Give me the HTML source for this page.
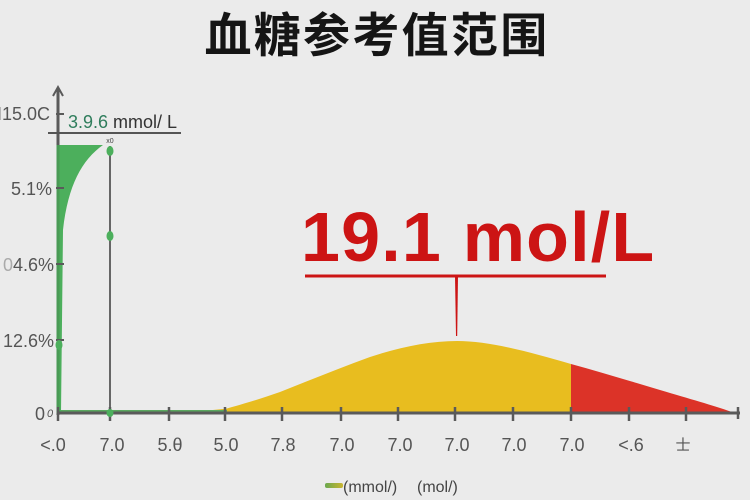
<!DOCTYPE html>
<html><head><meta charset="utf-8"><style>
html,body{margin:0;padding:0;background:#ebebeb;}
svg{display:block;}
</style></head><body>
<svg width="750" height="500" viewBox="0 0 750 500" xmlns="http://www.w3.org/2000/svg">
<rect width="750" height="500" fill="#ebebeb"/>
<text x="377" y="52" text-anchor="middle" font-family="'Liberation Sans','Noto Sans CJK SC',sans-serif" font-size="47" font-weight="bold" letter-spacing="2.3" fill="#151515">血糖参考值范围</text>

<!-- yellow area -->
<path d="M170,413 L170,412.5 C190,412 205,411 227,408.5 C240,405 260,399 280,392 C310,380 340,368 370,357 C400,347 430,341 457,341 C490,341 530,352 571,364 L571,413 Z" fill="#e8bd1f"/>
<!-- red area -->
<path d="M571,413 L571,364 C600,372 630,381 660,390 C690,399 712,405 732,412 L732,413 Z" fill="#dc3328"/>
<!-- green tail on baseline -->
<line x1="58" y1="411" x2="227" y2="411" stroke="#5aa85f" stroke-width="2"/>

<!-- green area -->
<path d="M57,145 L103,145 C82,160 68,185 63,230 L61,413 L57,413 Z" fill="#4caf5c"/>

<!-- vertical line at 110 -->
<line x1="110" y1="146" x2="110" y2="413" stroke="#666" stroke-width="2"/>

<!-- axes -->
<line x1="58" y1="88" x2="58" y2="415" stroke="#5a5a5a" stroke-width="3"/>
<line x1="58" y1="145" x2="58" y2="413" stroke="#4a9a55" stroke-width="3"/>
<polyline points="53,96 58,87 63,96" fill="none" stroke="#5a5a5a" stroke-width="2"/>
<line x1="57" y1="413" x2="740" y2="413" stroke="#5a5a5a" stroke-width="3"/>

<!-- y ticks -->
<g stroke="#5a5a5a" stroke-width="2">
<line x1="56" y1="114" x2="64" y2="114"/>
<line x1="56" y1="188" x2="64" y2="188"/>
<line x1="56" y1="264" x2="64" y2="264"/>
<line x1="56" y1="340" x2="64" y2="340"/>
</g>
<!-- x ticks -->
<g stroke="#5a5a5a" stroke-width="2.5">
<line x1="58" y1="407" x2="58" y2="421"/>
<line x1="110" y1="407" x2="110" y2="421"/>
<line x1="169" y1="407" x2="169" y2="421"/>
<line x1="225" y1="407" x2="225" y2="421"/>
<line x1="282" y1="407" x2="282" y2="421"/>
<line x1="341" y1="407" x2="341" y2="421"/>
<line x1="398" y1="407" x2="398" y2="421"/>
<line x1="455" y1="407" x2="455" y2="421"/>
<line x1="513" y1="407" x2="513" y2="421"/>
<line x1="571" y1="407" x2="571" y2="421"/>
<line x1="629" y1="407" x2="629" y2="421"/>
<line x1="686" y1="407" x2="686" y2="421"/>
<line x1="738" y1="407" x2="738" y2="419"/>
</g>

<!-- green dots -->
<g fill="#4caf5c">
<ellipse cx="110" cy="151" rx="3.5" ry="5"/>
<ellipse cx="110" cy="236" rx="3.5" ry="5"/>
<ellipse cx="110" cy="413" rx="3.5" ry="4"/>
<ellipse cx="59" cy="345" rx="3.5" ry="5"/>
</g>
<text x="110" y="143" text-anchor="middle" font-family="'Liberation Sans',sans-serif" font-size="7" fill="#444">x0</text>

<!-- top-left annotation -->
<line x1="48" y1="133" x2="181" y2="133" stroke="#555" stroke-width="2"/>
<text x="68" y="128" font-family="'Liberation Sans',sans-serif" font-size="18" fill="#2f7d5c">3.9.6<tspan fill="#333"> mmol/ L</tspan></text>

<!-- y labels -->
<g font-family="'Liberation Sans',sans-serif" font-size="18" fill="#555" text-anchor="end">
<text x="50" y="120">I15.0C</text>
<text x="52" y="195">5.1%</text>
<text x="54" y="271"><tspan fill="#aaa">0</tspan>4.6%</text>
<text x="54" y="347">12.6%</text>
<text x="45" y="420">0</text>
</g>
<text x="47" y="417" font-family="'Liberation Sans',sans-serif" font-size="11" font-style="italic" fill="#555">0</text>

<!-- x labels -->
<g font-family="'Liberation Sans','Noto Sans CJK SC',sans-serif" font-size="18" fill="#555" text-anchor="middle">
<text x="53" y="451">&lt;.0</text>
<text x="112" y="451">7.0</text>
<text x="170" y="451">5.θ</text>
<text x="226" y="451">5.0</text>
<text x="283" y="451">7.8</text>
<text x="342" y="451">7.0</text>
<text x="400" y="451">7.0</text>
<text x="457" y="451">7.0</text>
<text x="514" y="451">7.0</text>
<text x="572" y="451">7.0</text>
<text x="631" y="451">&lt;.6</text>
<text x="683" y="450" font-size="15">士</text>
</g>

<!-- red annotation -->
<text x="301" y="261" font-family="'Liberation Sans',sans-serif" font-size="70" font-weight="bold" letter-spacing="1.2" fill="#cc1414">19.1 mol/L</text>
<line x1="305" y1="276" x2="606" y2="276" stroke="#cc1414" stroke-width="3"/>
<polygon points="455,276 458,276 457.2,336 456,336" fill="#cc1414"/>

<!-- legend -->
<defs><linearGradient id="lg" x1="0" x2="1"><stop offset="0" stop-color="#6aa84f"/><stop offset="1" stop-color="#c9b531"/></linearGradient></defs>
<rect x="325" y="483" width="18" height="5" rx="2" fill="url(#lg)"/>
<text x="343" y="492" font-family="'Liberation Sans',sans-serif" font-size="16" fill="#444">(mmol/)</text>
<text x="417" y="492" font-family="'Liberation Sans',sans-serif" font-size="16" fill="#444">(mol/)</text>
</svg>
</body></html>
